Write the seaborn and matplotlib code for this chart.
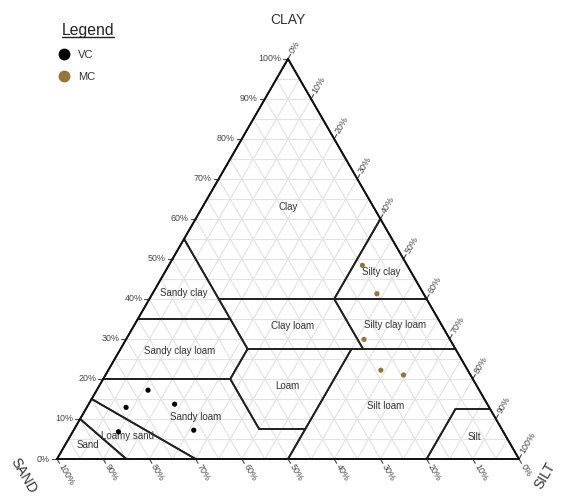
import numpy as np
import pandas as pd
import matplotlib
matplotlib.use("Agg")
import matplotlib.pyplot as plt
import seaborn as sns

# sample points, % sand / silt / clay
vc_sand = [71.7, 78.6, 67.7, 83.3, 66.8]
vc_silt = [11.1, 8.5, 18.6, 9.9, 26.0]
vc_clay = [17.2, 12.9, 13.7, 6.8, 7.2]

mc_sand = [9.7, 10.1, 18.6, 18.8, 14.5]
mc_silt = [41.9, 48.6, 51.5, 59.0, 64.5]
mc_clay = [48.4, 41.3, 29.9, 22.2, 21.0]

group_colors = {"VC": "#000000", "MC": "#9a7436"}

# USDA texture classes, vertices as (sand, silt, clay)
soil_classes = {
    "Clay": [(0, 0, 100), (45, 0, 55), (45, 15, 40), (20, 40, 40), (0, 40, 60)],
    "Sandy clay": [(45, 0, 55), (65, 0, 35), (45, 20, 35), (45, 15, 40)],
    "Silty clay": [(0, 40, 60), (20, 40, 40), (0, 60, 40)],
    "Sandy clay loam": [(65, 0, 35), (80, 0, 20), (52.5, 27.5, 20), (45, 27.5, 27.5), (45, 20, 35)],
    "Clay loam": [(45, 20, 35), (45, 27.5, 27.5), (20, 52.5, 27.5), (20, 40, 40), (45, 15, 40)],
    "Silty clay loam": [(20, 40, 40), (20, 52.5, 27.5), (0, 72.5, 27.5), (0, 60, 40)],
    "Loam": [(45, 27.5, 27.5), (52.5, 27.5, 20), (52.5, 40, 7.5), (42.5, 50, 7.5), (22.5, 50, 27.5)],
    "Silt loam": [(22.5, 50, 27.5), (42.5, 50, 7.5), (50, 50, 0), (20, 80, 0), (7.5, 80, 12.5),
                  (0, 87.5, 12.5), (0, 72.5, 27.5)],
    "Silt": [(20, 80, 0), (0, 100, 0), (0, 87.5, 12.5), (7.5, 80, 12.5)],
    "Sandy loam": [(80, 0, 20), (52.5, 27.5, 20), (52.5, 40, 7.5), (42.5, 50, 7.5), (50, 50, 0),
                   (70, 30, 0), (85, 0, 15)],
    "Loamy sand": [(85, 0, 15), (70, 30, 0), (85, 15, 0), (90, 0, 10)],
    "Sand": [(90, 0, 10), (85, 15, 0), (100, 0, 0)],
}

# where the class names sit, as (silt, clay)
label_pos = {
    "Clay": (18.5, 63.0), "Silty clay": (46.8, 46.7), "Sandy clay": (6.7, 41.5),
    "Clay loam": (34.3, 33.2), "Silty clay loam": (56.4, 33.5), "Sandy clay loam": (13.1, 27.0),
    "Loam": (40.7, 18.2), "Silt loam": (64.6, 13.2), "Sandy loam": (24.8, 10.5),
    "Loamy sand": (12.5, 5.7), "Sand": (5.0, 3.5), "Silt": (87.5, 5.5),
}

H = np.sqrt(3) / 2


def tern(silt, clay):
    silt = np.asarray(silt, dtype=float)
    clay = np.asarray(clay, dtype=float)
    return (silt + clay / 2) / 100, clay / 100 * H


sns.set_theme(style="white")
plt.rcParams["font.family"] = ["Liberation Sans", "DejaVu Sans"]

fig = plt.figure(figsize=(5.62, 4.96), dpi=100)
ax = fig.add_axes([0, 0, 1, 1])
px = 462.0
ax.set_xlim(-57 / px, (562 - 57) / px)
ax.set_ylim(-37 / px, (496 - 37) / px)
ax.axis("off")

# grid every 5 %
grid_kw = dict(color="#e2e2e2", lw=0.8, zorder=1)
for k in range(5, 100, 5):
    x, y = tern([0, 100 - k], [k, k])
    ax.plot(x, y, **grid_kw)
    x, y = tern([100 - k, 0], [0, 100 - k])
    ax.plot(x, y, **grid_kw)
    x, y = tern([k, k], [0, 100 - k])
    ax.plot(x, y, **grid_kw)

# class boundaries
for name, verts in soil_classes.items():
    sil = [v[1] for v in verts] + [verts[0][1]]
    cla = [v[2] for v in verts] + [verts[0][2]]
    x, y = tern(sil, cla)
    ax.plot(x, y, color="#222222", lw=1.3, zorder=2)
    lx, ly = tern(*label_pos[name])
    ax.text(lx, ly, name, fontsize=7, color="#333333", ha="center", va="center", zorder=4)

# outer triangle
x, y = tern([0, 100, 0, 0], [0, 0, 100, 0])
ax.plot(x, y, color="#111111", lw=1.3, zorder=3)

tl = 5 / px
lab_kw = dict(fontsize=6.4, color="#444444", rotation_mode="anchor", va="center")
ticks = list(range(0, 101, 10))
for t in ticks:
    # clay, left edge
    x0, y0 = tern(0, t)
    ax.plot([x0, x0 - tl], [y0, y0], color="#444444", lw=0.8)
    ax.text(x0 - tl - 2 / px, y0, f"{t}%", ha="right", **lab_kw)
    # sand, bottom edge
    x0, y0 = tern(100 - t, 0)
    d = np.array([0.5, -H])
    ax.plot([x0, x0 + d[0] * tl], [y0, y0 + d[1] * tl], color="#444444", lw=0.8)
    ax.text(x0 + d[0] * (tl + 2 / px), y0 + d[1] * (tl + 2 / px), f"{t}%", ha="left",
            rotation=-60, **lab_kw)
    # silt, right edge
    x0, y0 = tern(t, 100 - t)
    d = np.array([0.5, H])
    ax.plot([x0, x0 + d[0] * tl], [y0, y0 + d[1] * tl], color="#444444", lw=0.8)
    ax.text(x0 + d[0] * (tl + 2 / px), y0 + d[1] * (tl + 2 / px), f"{t}%", ha="left",
            rotation=60, **lab_kw)

# axis titles
ax.text(0.5, (459 - 20) / px, "CLAY", fontsize=10, color="#333333", ha="center", va="center")
ax.text((23 - 57) / px, (459 - 476) / px, "SAND", fontsize=10, color="#333333",
        ha="center", va="center", rotation=-60)
ax.text((545 - 57) / px, (459 - 476) / px, "SILT", fontsize=10, color="#333333",
        ha="center", va="center", rotation=60)

# points
df = pd.DataFrame({
    "silt": vc_silt + mc_silt,
    "clay": vc_clay + mc_clay,
    "group": ["VC"] * len(vc_silt) + ["MC"] * len(mc_silt),
})
df["x"], df["y"] = tern(df["silt"], df["clay"])
sns.scatterplot(data=df, x="x", y="y", hue="group", palette=group_colors, s=14,
                edgecolor="none", ax=ax, zorder=5, legend=False)

handles = [plt.Line2D([], [], marker="o", ls="", color=c, markersize=7.5) for c in group_colors.values()]
leg = fig.legend(handles, list(group_colors.keys()), title="Legend", loc="upper left",
                 bbox_to_anchor=(56 / 562, 1 - 17 / 496), frameon=False, fontsize=8,
                 title_fontsize=11.3, alignment="left", borderpad=0, handlelength=0.5,
                 handletextpad=0.95, labelspacing=1.08)
for t in leg.get_texts():
    t.set_color("#333333")
leg.get_title().set_color("#222222")

fig.canvas.draw()
bb = leg.get_title().get_window_extent(fig.canvas.get_renderer())
inv = fig.transFigure.inverted()
(x1, y1), (x2, _) = inv.transform([(bb.x0, bb.y0 + 1), (bb.x1, bb.y0)])
fig.add_artist(plt.Line2D([x1, x2], [y1, y1], color="#222222", lw=1.0))

fig.savefig("out.png", dpi=100)
